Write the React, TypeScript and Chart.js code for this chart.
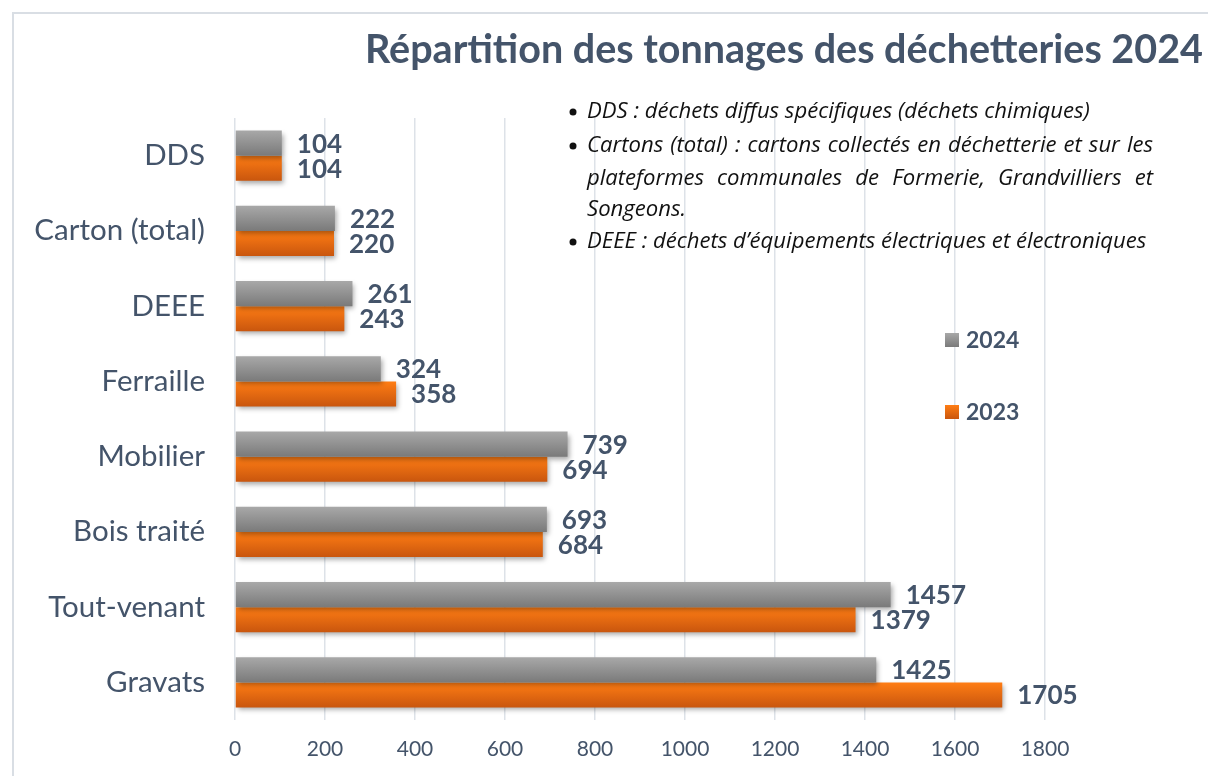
import React, { useEffect, useRef } from "react";
import { Chart, registerables } from "chart.js";

Chart.register(...registerables);

const categories = ["DDS", "Carton (total)", "DEEE", "Ferraille", "Mobilier", "Bois traité", "Tout-venant", "Gravats"];
const values2024 = [104, 222, 261, 324, 739, 693, 1457, 1425];
const values2023 = [104, 220, 243, 358, 694, 684, 1379, 1705];
const seriesLabels = ["2024", "2023"];
const xMin = 0;
const xMax = 1800;
const xStep = 200;
const titleText = "Répartition des tonnages des déchetteries 2024";
const notes = [
  { bullet: true, text: "DDS : déchets diffus spécifiques (déchets chimiques)", justify: false },
  { bullet: true, text: "Cartons (total) : cartons collectés en déchetterie et sur les", justify: true },
  { bullet: false, text: "plateformes communales de Formerie, Grandvilliers et", justify: true },
  { bullet: false, text: "Songeons.", justify: false },
  { bullet: true, text: "DEEE : déchets d’équipements électriques et électroniques", justify: false },
];

const TEXT = "#44546A";
const GRID = "#dde2e8";
const FONT = "Lato";

const gradients = [
  ["#a8a8a8", "#7a7a7a"],
  ["#ff7d14", "#c9560e"],
];

function fitSize(ctx: any, text: string, style: string, family: string, target: number) {
  ctx.font = `${style} 20px ${family}`;
  const w = ctx.measureText(text).width;
  return (20 * target) / w;
}

const extrasPlugin = {
  id: "extras",
  beforeDraw(chart: any) {
    const ctx = chart.ctx;
    ctx.save();
    ctx.fillStyle = "#ffffff";
    ctx.fillRect(0, 0, chart.width, chart.height);
    ctx.strokeStyle = "#d9dee4";
    ctx.lineWidth = 2;
    ctx.strokeRect(13, 13, chart.width + 50, chart.height + 50);
    ctx.restore();
  },
  beforeDatasetsDraw(chart: any) {
    const ctx = chart.ctx;
    chart.data.datasets.forEach((ds: any, di: number) => {
      const meta = chart.getDatasetMeta(di);
      meta.data.forEach((el: any) => {
        const { y, height } = el.getProps(["y", "height"], true);
        const top = y - height / 2;
        const g = ctx.createLinearGradient(0, top, 0, top + height);
        g.addColorStop(0, gradients[di][0]);
        g.addColorStop(1, gradients[di][1]);
        el.options = Object.assign({}, el.options, { backgroundColor: g });
      });
    });
    ctx.save();
    ctx.shadowColor = "rgba(0,0,0,0.35)";
    ctx.shadowBlur = 5;
    ctx.shadowOffsetX = 2;
    ctx.shadowOffsetY = 3;
  },
  afterDatasetsDraw(chart: any) {
    const ctx = chart.ctx;
    ctx.restore();
    ctx.save();
    // data labels
    ctx.font = `bold 26px ${FONT}`;
    ctx.fillStyle = TEXT;
    ctx.textAlign = "left";
    ctx.textBaseline = "middle";
    chart.data.datasets.forEach((ds: any, di: number) => {
      const meta = chart.getDatasetMeta(di);
      meta.data.forEach((el: any, i: number) => {
        const { x, y } = el.getProps(["x", "y"], true);
        ctx.fillText(String(ds.data[i]), x + 15, y + 1);
      });
    });
    // title
    const ts = fitSize(ctx, titleText, "bold", FONT, 838);
    ctx.font = `bold ${ts}px ${FONT}`;
    ctx.textAlign = "center";
    ctx.textBaseline = "middle";
    ctx.fillText(titleText, 784, 50);
    // notes
    ctx.fillStyle = "#111111";
    const ns = fitSize(ctx, notes[0].text, "italic", "Open Sans", 503);
    ctx.font = `italic ${ns}px Open Sans`;
    ctx.textAlign = "left";
    const lineYs = [112, 146, 179, 210, 242];
    const textLeft = 587;
    const textRight = 1153;
    notes.forEach((n, i) => {
      const y = lineYs[i];
      if (n.bullet) {
        ctx.beginPath();
        ctx.arc(573, y, 3.5, 0, Math.PI * 2);
        ctx.fill();
      }
      if (n.justify) {
        const words = n.text.split(" ");
        const total = words.reduce((s, w) => s + ctx.measureText(w).width, 0);
        const gap = (textRight - textLeft - total) / (words.length - 1);
        let x = textLeft;
        words.forEach((w) => {
          ctx.fillText(w, x, y);
          x += ctx.measureText(w).width + gap;
        });
      } else {
        ctx.fillText(n.text, textLeft, y);
      }
    });
    // legend
    const legendYs = [340, 412];
    seriesLabels.forEach((lab, i) => {
      const y = legendYs[i];
      const g = ctx.createLinearGradient(0, y - 7, 0, y + 7);
      g.addColorStop(0, gradients[i][0]);
      g.addColorStop(1, gradients[i][1]);
      ctx.fillStyle = g;
      ctx.fillRect(945, y - 7, 14, 14);
      ctx.fillStyle = TEXT;
      ctx.font = `bold 23px ${FONT}`;
      ctx.fillText(lab, 966, y + 1);
    });
    ctx.restore();
  },
};

export default function App() {
  const ref = useRef<HTMLCanvasElement | null>(null);
  useEffect(() => {
    if (!ref.current) return;
    const chart = new Chart(ref.current, {
      type: "bar",
      data: {
        labels: categories,
        datasets: [
          { label: seriesLabels[0], data: values2024, backgroundColor: "#8f8f8f" },
          { label: seriesLabels[1], data: values2023, backgroundColor: "#ed7d31" },
        ],
      },
      options: {
        indexAxis: "y",
        animation: false,
        responsive: true,
        maintainAspectRatio: false,
        datasets: { bar: { categoryPercentage: 0.665, barPercentage: 1 } },
        layout: { padding: { left: 0, right: 163, top: 118, bottom: 0 } },
        plugins: { legend: { display: false }, tooltip: { enabled: false }, title: { display: false } },
        scales: {
          x: {
            min: xMin,
            max: xMax,
            afterFit: (s: any) => { s.height = 56; },
            ticks: {
              stepSize: xStep,
              color: TEXT,
              font: { family: FONT, size: 21 },
              padding: 17,
              callback: (v: any) => String(v),
            },
            grid: { color: GRID, lineWidth: 1.5, drawTicks: false, tickLength: 0 },
            border: { display: false },
          },
          y: {
            afterFit: (s: any) => { s.width = 235; },
            ticks: { color: TEXT, font: { family: FONT, size: 29.5 }, padding: 30 },
            grid: { display: false, drawTicks: false },
            border: { display: false },
          },
        },
      },
      plugins: [extrasPlugin],
    });
    return () => chart.destroy();
  }, []);
  return (
    <div style={{ position: "fixed", left: 0, top: 0, width: 1208, height: 776, background: "#fff" }}>
      <canvas ref={ref} />
    </div>
  );
}
